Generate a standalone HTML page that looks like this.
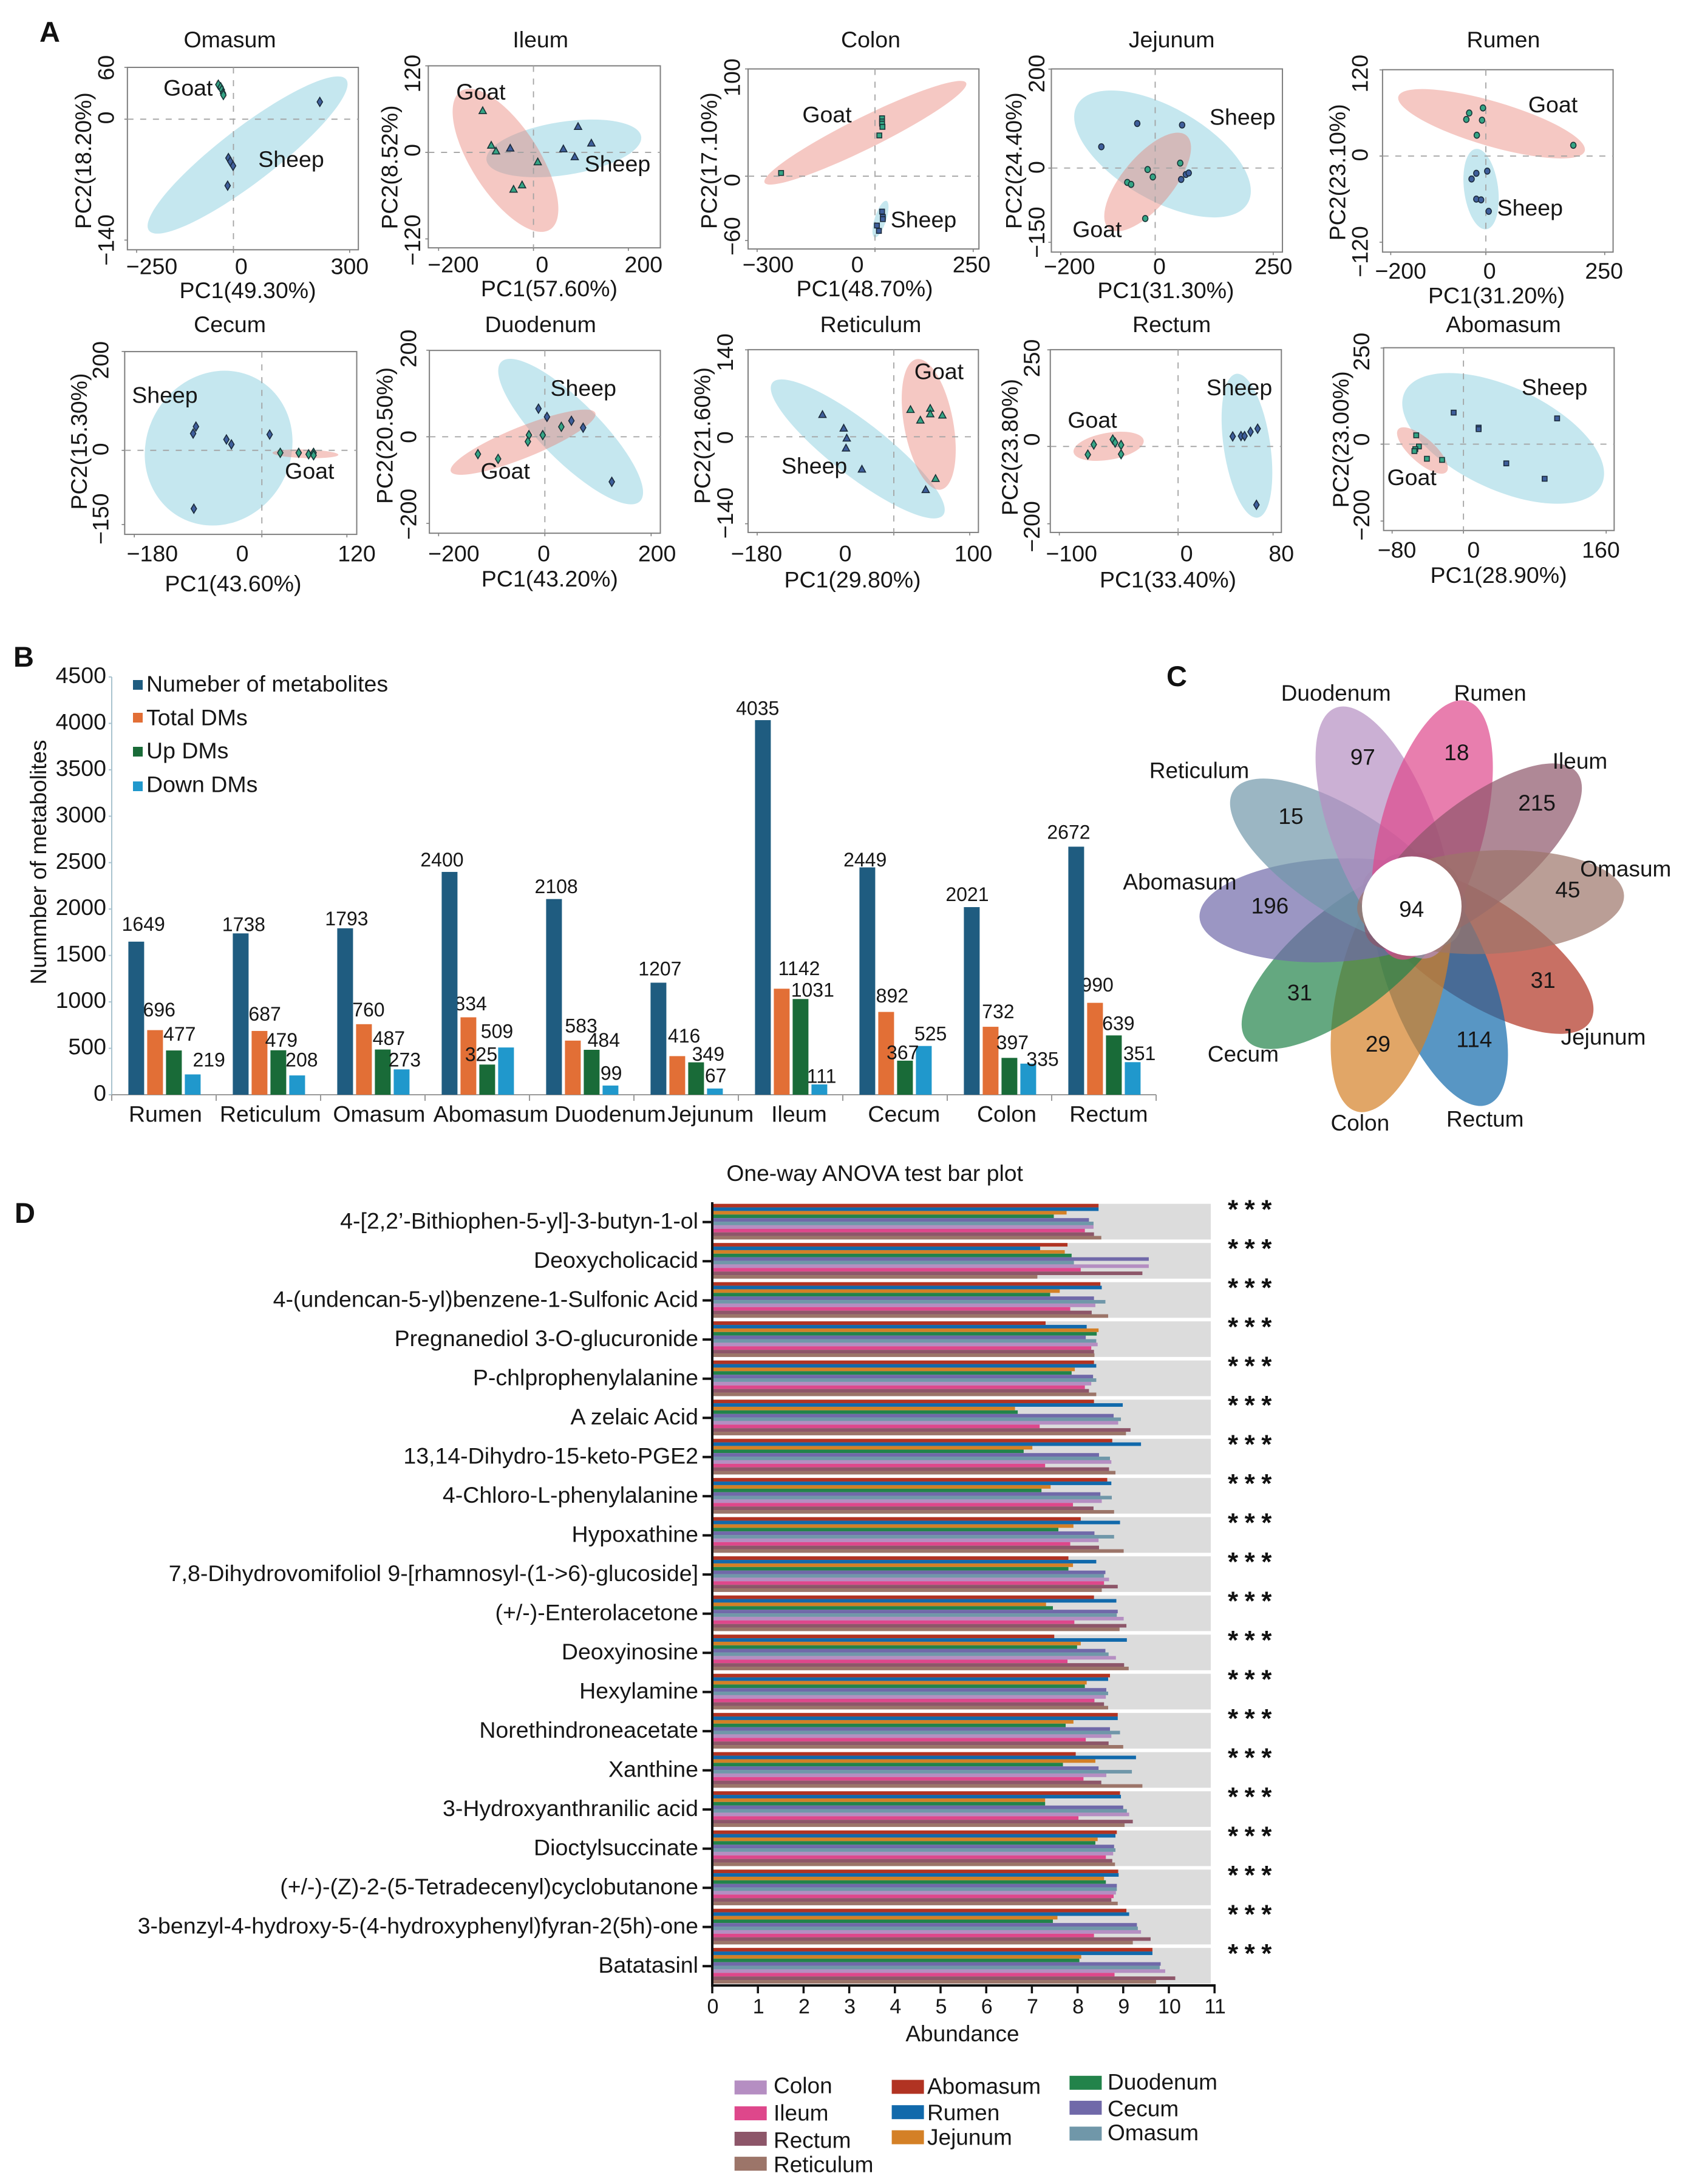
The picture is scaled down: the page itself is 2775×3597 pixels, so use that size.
<!DOCTYPE html>
<html lang="en">
<head>
<meta charset="utf-8">
<title>Metabolite comparison figure</title>
<style>
html,body{margin:0;padding:0;background:#fff;}
svg{display:block;font-family:"Liberation Sans",Arial,sans-serif;}
</style>
</head>
<body>
<svg id="figure" width="2775" height="3597" viewBox="0 0 2775 3597">
  <rect x="0" y="0" width="2775" height="3597" fill="#ffffff"/>
  <text x="65" y="69" font-size="47" font-weight="bold" fill="#111">A</text>
  <text x="22" y="1098" font-size="47" font-weight="bold" fill="#111">B</text>
  <text x="1921" y="1130" font-size="47" font-weight="bold" fill="#111">C</text>
  <text x="24" y="2014" font-size="47" font-weight="bold" fill="#111">D</text>
  <g id="panelA"></g>
  <g id="panelB"></g>
  <g id="panelC"></g>
  <g id="panelD"></g>
</svg>
<script>
/* ---------- Panel A data (PC1, PC2 values) ---------- */
const omasumGoat=[[-39,40],[-33,37],[-30,34],[-27,30],[-26,28]];
const omasumSheep=[[223,20],[-13,-45],[-8,-49],[-1,-54],[-15,-77]];
const omasumGoatEllipse=[-43,45,-19,25,0.25];
const omasumSheepEllipse=[291,46,-218,-129,0.22];
const ileumGoat=[[-107,58],[-89,10],[-79,2],[9,-13],[-24,-45],[-42,-51]];
const ileumSheep=[[-49,6],[94,36],[63,5],[122,13],[87,-6]];
const ileumGoatEllipse=[-153,85,35,-107,0.41];
const ileumSheepEllipse=[-99,-11,227,22,0.34];
const colonGoat=[[18,54],[18,51],[18,49],[19,46],[11,38],[-239,3]];
const colonSheep=[[18,-33],[20,-38],[20,-40],[5,-46],[10,-51]];
const colonGoatEllipse=[-281,-6,232,87,0.14];
const colonSheepEllipse=[29,-23,-1,-57,0.3];
const jejunumGoat=[[53,10],[-16,-3],[-5,-18],[-59,-29],[-51,-33],[-21,-102]];
const jejunumSheep=[[-38,90],[57,87],[-114,43],[55,-23],[65,-13],[71,-10]];
const jejunumGoatEllipse=[-98,-122,66,66,0.42];
const jejunumSheepEllipse=[-165,128,196,-71,0.47];
const rumenGoat=[[-6,67],[-35,60],[-41,51],[-8,50],[-19,29],[184,15]];
const rumenSheep=[[-20,-24],[-30,-32],[3,-21],[-20,-60],[-10,-61],[6,-77]];
const rumenGoatEllipse=[-184,83,208,7,0.23];
const rumenSheepEllipse=[-21,10,1,-102,0.42];
const cecumGoat=[[26,-5],[52,-5],[66,-8],[72,-7],[73,-5],[73,-10]];
const cecumSheep=[[-93,48],[-97,34],[-50,22],[-43,12],[11,32],[-96,-118]];
const cecumGoatEllipse=[15,-5,108,-9,0.13];
const cecumSheepEllipse=[-5,143,-117,-134,0.91];
const duodenumGoat=[[-126,-40],[-88,-51],[-30,4],[-32,-11],[-4,4],[31,23]];
const duodenumSheep=[[-12,65],[4,46],[50,37],[72,21],[126,-104]];
const duodenumGoatEllipse=[-177,-80,95,55,0.2];
const duodenumSheepEllipse=[-82,173,179,-149,0.3];
const reticulumGoat=[[22,44],[48,46],[35,27],[48,37],[64,35],[55,-67]];
const reticulumSheep=[[-94,36],[-66,14],[-62,-2],[-63,-18],[-42,-52],[42,-85]];
const reticulumGoatEllipse=[30,125,62,-85,0.37];
const reticulumSheepEllipse=[-160,87,65,-126,0.25];
const rectumGoat=[[-76,-21],[-71,5],[-55,18],[-53,10],[-48,4],[-48,-20]];
const rectumSheep=[[46,26],[53,27],[56,27],[61,38],[67,46],[66,-151]];
const rectumGoatEllipse=[-88,-15,-29,16,0.38];
const rectumSheepEllipse=[49,188,67,-184,0.32];
const abomasumGoat=[[-53,23],[-50,-6],[-54,-13],[-55,-18],[-41,-38],[-24,-41]];
const abomasumSheep=[[-11,82],[17,43],[17,39],[105,67],[48,-50],[91,-90]];
const abomasumGoatEllipse=[-73,39,-19,-72,0.38];
const abomasumSheepEllipse=[-66,135,155,-105,0.47];

/* ---------- Panel B data ---------- */
const bCategories=['Rumen','Reticulum','Omasum','Abomasum','Duodenum','Jejunum','Ileum','Cecum','Colon','Rectum'];
const bMetabolites=[1649,1738,1793,2400,2108,1207,4035,2449,2021,2672];
const bTotalDMs=[696,687,760,834,583,416,1142,892,732,990];
const bUpDMs=[477,479,487,325,484,349,1031,367,397,639];
const bDownDMs=[219,208,273,509,99,67,111,525,335,351];
const bYTicks=[0,500,1000,1500,2000,2500,3000,3500,4000,4500];
const bSeriesNames=['Numeber of metabolites','Total DMs','Up DMs','Down DMs'];

/* ---------- Panel C data ---------- */
const vennNames=['Rumen','Ileum','Omasum','Jejunum','Rectum','Colon','Cecum','Abomasum','Reticulum','Duodenum'];
const vennCounts=[18,215,45,31,114,29,31,196,15,97];
const vennCore=[94];

/* ---------- Panel D data ---------- */
const dMetabolites=["4-[2,2\u2019-Bithiophen-5-yl]-3-butyn-1-ol","Deoxycholicacid","4-(undencan-5-yl)benzene-1-Sulfonic Acid","Pregnanediol 3-O-glucuronide","P-chlprophenylalanine","A zelaic Acid","13,14-Dihydro-15-keto-PGE2","4-Chloro-L-phenylalanine","Hypoxathine","7,8-Dihydrovomifoliol 9-[rhamnosyl-(1->6)-glucoside]","(+/-)-Enterolacetone","Deoxyinosine","Hexylamine","Norethindroneacetate","Xanthine","3-Hydroxyanthranilic acid","Dioctylsuccinate","(+/-)-(Z)-2-(5-Tetradecenyl)cyclobutanone","3-benzyl-4-hydroxy-5-(4-hydroxyphenyl)fyran-2(5h)-one","Batatasinl"];
const dAbomasum=[8.46,7.78,8.50,7.30,8.36,8.36,8.76,8.65,8.07,7.80,8.36,7.49,8.71,8.88,7.96,8.93,8.86,8.89,9.07,9.64];
const dRumen=[8.46,7.18,8.53,8.20,8.41,8.99,9.39,8.74,8.93,8.41,8.85,9.08,8.67,8.88,9.28,8.95,8.83,8.90,9.13,9.64];
const dJejunum=[7.76,7.72,7.61,8.46,7.94,6.63,7.01,7.41,7.91,7.90,7.31,8.07,8.20,7.91,8.39,7.29,8.44,8.58,7.56,8.08];
const dDuodenum=[7.48,7.87,7.40,8.42,7.87,6.69,6.82,7.21,7.58,7.80,7.46,7.99,8.16,7.74,7.68,7.29,8.39,8.62,7.46,8.04];
const dCecum=[8.25,9.56,8.36,8.18,8.34,8.79,8.47,8.50,8.37,8.61,8.88,8.61,8.63,8.71,8.46,9.00,8.80,8.86,9.30,9.82];
const dOmasum=[8.35,7.92,8.61,8.41,8.41,8.95,8.71,8.75,8.80,8.58,8.86,8.68,8.67,8.93,9.19,9.08,8.83,8.86,9.32,9.80];
const dColon=[8.35,9.56,8.39,8.44,8.30,8.89,8.74,8.53,8.46,8.69,9.01,8.84,8.62,8.74,8.63,9.13,8.78,8.84,9.39,9.92];
const dIleum=[8.16,8.07,7.84,8.30,8.16,7.17,7.29,7.90,7.84,8.58,7.93,7.78,8.37,8.18,8.13,8.02,8.62,8.79,8.36,8.81];
const dRectum=[8.36,9.42,8.31,8.36,8.25,9.16,8.69,8.35,8.47,8.88,9.07,9.02,8.58,8.68,8.52,9.21,8.76,8.74,9.60,10.14];
const dReticulum=[8.52,7.12,8.67,8.37,8.41,9.06,8.83,8.80,9.01,8.53,8.92,9.12,8.67,9.00,9.42,9.03,8.82,8.88,9.21,9.72];
const dXTicks=[0,1,2,3,4,5,6,7,8,9,10,11];

/* ---------- helpers ---------- */
const NS='http://www.w3.org/2000/svg';
function add(parent,tag,attrs){
  const el=document.createElementNS(NS,tag);
  for(const k in attrs){el.setAttribute(k,attrs[k]);}
  parent.appendChild(el);
  return el;
}
function label(parent,str,x,y,size,anchor,rotated){
  const el=add(parent,'text',{x:x,y:y,'font-size':size,'text-anchor':anchor||'middle',fill:'#161616'});
  if(rotated){el.setAttribute('transform','rotate(-90 '+x+' '+y+')');}
  el.textContent=str;
  return el;
}
const zx1=v=>v/1.12;
const zx2=v=>1400+v/1.1404;
const zy=v=>v/1.568;
const fmtTick=v=>(v<0?'\u2212'+Math.abs(v):String(v));

/* ---------- Panel A layout ---------- */
const pcaLayout=[
 {name:'Omasum',goat:omasumGoat,sheep:omasumSheep,goatE:omasumGoatEllipse,sheepE:omasumSheepEllipse,shape:'diamond',box:[zx1(235),zy(174),zx1(661),zy(645)],x0:zx1(430.6),kx:.7145/1.12,y0:zy(307.8),ky:2.23/1.568,xTicks:[-250,0,300],xLabelX:[zx1(280),zx1(445),zx1(645)],xLabelY:zy(708),yTicks:[60,0,-140],yLabelY:[zy(175),zy(304),zy(620)],yLabelX:zx1(210),pcx:'PC1(49.30%)',pcxAt:[zx1(457),zy(770)],pcy:'PC2(18.20%)',pcyAt:[zx1(168),zy(415)],titleAt:[zx1(424),zy(122)],goatAt:[zx1(347),zy(247)],sheepAt:[zx1(537),zy(431)]},
 {name:'Ileum',goat:ileumGoat,sheep:ileumSheep,goatE:ileumGoatEllipse,sheepE:ileumSheepEllipse,shape:'triangle',box:[zx1(790),zy(170),zx1(1218),zy(640)],x0:zx1(984),kx:.875/1.12,y0:zy(393.5),ky:1.862/1.568,xTicks:[-200,0,200],xLabelX:[zx1(836),zx1(1000),zx1(1187)],xLabelY:zy(703),yTicks:[120,0,-120],yLabelY:[zy(190),zy(388),zy(620)],yLabelX:zx1(775),pcx:'PC1(57.60%)',pcxAt:[zx1(1013),zy(765)],pcy:'PC2(8.52%)',pcyAt:[zx1(733),zy(432)],titleAt:[zx1(997),zy(122)],goatAt:[zx1(887),zy(257)],sheepAt:[zx1(1139),zy(443)]},
 {name:'Colon',goat:colonGoat,sheep:colonSheep,goatE:colonGoatEllipse,sheepE:colonSheepEllipse,shape:'square',box:[1232,zy(178),zx2(242),zy(643)],x0:1441,kx:.647,y0:zy(455),ky:2.77/1.568,xTicks:[-300,0,250],xLabelX:[1265,1412,1600],xLabelY:zy(703),yTicks:[100,0,-60],yLabelY:[zy(200),zy(465),zy(610)],yLabelX:zx1(1365),pcx:'PC1(48.70%)',pcxAt:[1424,zy(765)],pcy:'PC2(17.10%)',pcyAt:[zx1(1322),zy(415)],titleAt:[1434,zy(122)],goatAt:[1362,zy(316)],sheepAt:[zx2(138),zy(587)]},
 {name:'Jejunum',goat:jejunumGoat,sheep:jejunumSheep,goatE:jejunumGoatEllipse,sheepE:jejunumSheepEllipse,shape:'circle',box:[zx2(378),zy(178),zx2(812),zy(651)],x0:zx2(573),kx:.887/1.1404,y0:zy(434),ky:1.278/1.568,xTicks:[-200,0,250],xLabelX:[zx2(412),zx2(581),zx2(795)],xLabelY:zy(708),yTicks:[200,0,-150],yLabelY:[zy(190),zy(432),zy(600)],yLabelX:zx2(365),pcx:'PC1(31.30%)',pcxAt:[zx2(593),zy(770)],pcy:'PC2(24.40%)',pcyAt:[zx2(322),zy(415)],titleAt:[zx2(604),zy(122)],goatAt:[zx2(464),zy(612)],sheepAt:[zx2(737),zy(322)]},
 {name:'Rumen',goat:rumenGoat,sheep:rumenSheep,goatE:rumenGoatEllipse,sheepE:rumenSheepEllipse,shape:'circle',box:[zx2(1000),zy(180),zx2(1433),zy(651)],x0:zx2(1194),kx:.893/1.1404,y0:zy(403),ky:1.854/1.568,xTicks:[-200,0,250],xLabelX:[zx2(1034),zx2(1201),zx2(1416)],xLabelY:zy(720),yTicks:[120,0,-120],yLabelY:[zy(190),zy(400),zy(650)],yLabelX:zx2(972),pcx:'PC1(31.20%)',pcxAt:[zx2(1214),zy(783)],pcy:'PC2(23.10%)',pcyAt:[zx2(930),zy(445)],titleAt:[zx2(1227),zy(122)],goatAt:[zx2(1320),zy(290)],sheepAt:[zx2(1277),zy(557)]},
 {name:'Cecum',goat:cecumGoat,sheep:cecumSheep,goatE:cecumGoatEllipse,sheepE:cecumSheepEllipse,shape:'diamond',box:[zx1(230),zy(908),zx1(658),zy(1380)],x0:zx1(483),kx:1.307/1.12,y0:zy(1163),ky:1.277/1.568,xTicks:[-180,0,120],xLabelX:[zx1(281),zx1(447),zx1(658)],xLabelY:zy(1450),yTicks:[200,0,-150],yLabelY:[zy(930),zy(1160),zy(1340)],yLabelX:zx1(200),pcx:'PC1(43.60%)',pcxAt:[zx1(430),zy(1527)],pcy:'PC2(15.30%)',pcyAt:[zx1(160),zy(1140)],titleAt:[zx1(424),zy(858)],goatAt:[zx1(571),zy(1236)],sheepAt:[zx1(304),zy(1040)]},
 {name:'Duodenum',goat:duodenumGoat,sheep:duodenumSheep,goatE:duodenumGoatEllipse,sheepE:duodenumSheepEllipse,shape:'diamond',box:[zx1(792),zy(905),zx1(1218),zy(1377)],x0:zx1(1005),kx:.98/1.12,y0:zy(1128),ky:1.118/1.568,xTicks:[-200,0,200],xLabelX:[zx1(837),zx1(1003),zx1(1212)],xLabelY:zy(1450),yTicks:[200,0,-200],yLabelY:[zy(900),zy(1128),zy(1328)],yLabelX:zx1(768),pcx:'PC1(43.20%)',pcxAt:[zx1(1014),zy(1515)],pcy:'PC2(20.50%)',pcyAt:[zx1(724),zy(1125)],titleAt:[zx1(997),zy(858)],goatAt:[zx1(932),zy(1236)],sheepAt:[zx1(1076),zy(1022)]},
 {name:'Reticulum',goat:reticulumGoat,sheep:reticulumSheep,goatE:reticulumGoatEllipse,sheepE:reticulumSheepEllipse,shape:'triangle',box:[1232,zy(903),zx2(241),zy(1375)],x0:1472,kx:1.25,y0:zy(1128),ky:1.604/1.568,xTicks:[-180,0,100],xLabelX:[1246,1392,1603],xLabelY:zy(1450),yTicks:[140,0,-140],yLabelY:[zy(910),zy(1130),zy(1325)],yLabelX:zx1(1352),pcx:'PC1(29.80%)',pcxAt:[1404,zy(1517)],pcy:'PC2(21.60%)',pcyAt:[zx1(1310),zy(1125)],titleAt:[1434,zy(858)],goatAt:[zx2(167),zy(979)],sheepAt:[zx1(1502),zy(1223)]},
 {name:'Rectum',goat:rectumGoat,sheep:rectumSheep,goatE:rectumGoatEllipse,sheepE:rectumSheepEllipse,shape:'diamond',box:[zx2(376),zy(903),zx2(810),zy(1375)],x0:zx2(616),kx:2.23/1.1404,y0:zy(1153),ky:.998/1.568,xTicks:[-100,0,80],xLabelX:[zx2(416),zx2(632),zx2(810)],xLabelY:zy(1450),yTicks:[250,0,-200],yLabelY:[zy(925),zy(1135),zy(1360)],yLabelX:zx2(356),pcx:'PC1(33.40%)',pcxAt:[zx2(597),zy(1517)],pcy:'PC2(23.80%)',pcyAt:[zx2(315),zy(1155)],titleAt:[zx2(604),zy(858)],goatAt:[zx2(455),zy(1105)],sheepAt:[zx2(731),zy(1021)]},
 {name:'Abomasum',goat:abomasumGoat,sheep:abomasumSheep,goatE:abomasumGoatEllipse,sheepE:abomasumSheepEllipse,shape:'square',box:[zx2(1002),zy(898),zx2(1435),zy(1370)],x0:zx2(1152),kx:1.675/1.1404,y0:zy(1147),ky:.993/1.568,xTicks:[-80,0,160],xLabelX:[zx2(1027),zx2(1171),zx2(1410)],xLabelY:zy(1440),yTicks:[250,0,-200],yLabelY:[zy(908),zy(1135),zy(1330)],yLabelX:zx2(975),pcx:'PC1(28.90%)',pcxAt:[zx2(1218),zy(1505)],pcy:'PC2(23.00%)',pcyAt:[zx2(936),zy(1135)],titleAt:[zx2(1227),zy(858)],goatAt:[zx2(1055),zy(1253)],sheepAt:[zx2(1323),zy(1020)]}
];

function ellipseMark(parent,e,X,Y,fill){
  const x1=X(e[0]),y1=Y(e[1]),x2=X(e[2]),y2=Y(e[3]);
  const cx=(x1+x2)/2,cy=(y1+y2)/2,a=Math.hypot(x2-x1,y2-y1)/2;
  const ang=Math.atan2(y2-y1,x2-x1)*180/Math.PI;
  return add(parent,'ellipse',{cx:cx,cy:cy,rx:a,ry:a*e[4],fill:fill,transform:'rotate('+ang+' '+cx+' '+cy+')'});
}
function marker(parent,shape,px,py,fill,stroke){
  const common={fill:fill,stroke:stroke,'stroke-width':1.6};
  let el;
  if(shape==='diamond'){
    el=add(parent,'polygon',Object.assign({points:(px)+','+(py-7.5)+' '+(px+4.5)+','+py+' '+(px)+','+(py+7.5)+' '+(px-4.5)+','+py},common));
  }else if(shape==='triangle'){
    el=add(parent,'polygon',Object.assign({points:px+','+(py-6)+' '+(px+6)+','+(py+5)+' '+(px-6)+','+(py+5)},common));
  }else if(shape==='square'){
    el=add(parent,'rect',Object.assign({x:px-4,y:py-4,width:8,height:8},common));
  }else{
    el=add(parent,'ellipse',Object.assign({cx:px,cy:py,rx:4.5,ry:5},common));
  }
  return el;
}

const panelA=document.getElementById('panelA');
pcaLayout.forEach(p=>{
  const g=add(panelA,'g',{});
  
  
  const X=v=>p.x0+p.kx*v;
  const Y=v=>p.y0-p.ky*v;
  const b=p.box;

  const sheepE=ellipseMark(g,p.sheepE,X,Y,'rgba(150,211,226,.55)');
  
  
  const goatE=ellipseMark(g,p.goatE,X,Y,'rgba(231,124,112,.42)');
  
  

  const frame=add(g,'rect',{x:b[0],y:b[1],width:b[2]-b[0],height:b[3]-b[1],fill:'none',stroke:'#7f7f7f','stroke-width':2});
  
  

  const vz=add(g,'line',{x1:X(0),x2:X(0),y1:b[1],y2:b[3],stroke:'#a3a3a3','stroke-width':1.8,'stroke-dasharray':'10 11'});
  
  
  const hz=add(g,'line',{x1:b[0],x2:b[2],y1:Y(0),y2:Y(0),stroke:'#a3a3a3','stroke-width':1.8,'stroke-dasharray':'10 11'});
  
  

  p.xTicks.forEach((v,i)=>{
    const t=add(g,'line',{x1:X(v),x2:X(v),y1:b[3],y2:b[3]+5,stroke:'#7f7f7f','stroke-width':1.6});
    
    
    const tl=label(g,fmtTick(v),p.xLabelX[i],p.xLabelY,37.5);
    
    
  });
  p.yTicks.forEach((v,i)=>{
    const t=add(g,'line',{x1:b[0]-5,x2:b[0],y1:Y(v),y2:Y(v),stroke:'#7f7f7f','stroke-width':1.6});
    
    
    const tl=label(g,fmtTick(v),p.yLabelX,p.yLabelY[i],37.5,'middle',true);
    
    
  });

  p.sheep.forEach(pt=>{
    const m=marker(g,p.shape,X(pt[0]),Y(pt[1]),'#3f5f9c','#1b2a3c');
    
    
  });
  p.goat.forEach(pt=>{
    const m=marker(g,p.shape,X(pt[0]),Y(pt[1]),'#35a585','#173436');
    
    
  });

  const title=label(g,p.name,p.titleAt[0],p.titleAt[1],37.5);
  
  
  const xt=label(g,p.pcx,p.pcxAt[0],p.pcxAt[1],37.5);
  
  
  const yt=label(g,p.pcy,p.pcyAt[0],p.pcyAt[1],37.5,'middle',true);
  
  
  const gl=label(g,'Goat',p.goatAt[0],p.goatAt[1],37.5);
  
  
  const sl=label(g,'Sheep',p.sheepAt[0],p.sheepAt[1],37.5);
  
  
});

/* ---------- Panel B ---------- */
(function(){
  const root=document.getElementById('panelB');
  const sx=.804,sy=1.845;
  const bX=z=>z/sx;
  const Y=v=>1803-v*0.1529;
  const left=184,right=1904,pitch=172;
  const colors=['#1f5c80','#e26f36','#196b38','#2098cc'];
  const series=[bMetabolites,bTotalDMs,bUpDMs,bDownDMs];
  /* layout: label offsets from each bar's top-centre, in zoomed units */
  const labelDx=[[9.5,5.5,7.5,21.5],[4,7,4,6],[2,6,8,4],[-10,3,-8,-12],[3,11,16,1],[2,9,16,1],[-7,23,16,3],[-3,8,-3,9],[-6,10,4,19],[-10,3,6,9]];
  const labelDy=[[33,42,30,24],[7,31,11,27],[9,24,14,9],[17,21,11,29],[18,25,9,17],[22,41,5,19],[16,41,7,5],[3,29,4,17],[18,26,26,-7],[24,34,16,6]];
  const catLabelZ=[219,358,502,650,808,941,1058,1197,1333,1468];

  const yAxis=add(root,'line',{x1:left,x2:left,y1:Y(4500),y2:Y(0),stroke:'#a9c3cf','stroke-width':2});
  
  
  const xAxis=add(root,'line',{x1:left,x2:right,y1:Y(0),y2:Y(0),stroke:'#9a9a9a','stroke-width':2});
  
  

  bYTicks.forEach(v=>{
    const t=add(root,'line',{x1:left-5,x2:left,y1:Y(v),y2:Y(v),stroke:'#a9c3cf','stroke-width':2});
    
    
    const l=label(root,String(v),175,Y(v)+10,37.5,'end');
    
    
  });
  for(let i=0;i<=bCategories.length;i++){
    const x=left+pitch*i;
    const t=add(root,'line',{x1:x,x2:x,y1:Y(0),y2:Y(0)+10,stroke:'#9a9a9a','stroke-width':2});
    
    
  }
  bCategories.forEach((c,i)=>{
    const l=label(root,c,bX(catLabelZ[i]),1847.5,37.5);
    
    
  });

  function valueLabels(s){
    series[s].forEach((v,i)=>{
      const cx=left+pitch*i+27.4+13+31*s;
      const l=label(root,String(v),cx+labelDx[i][s]/sx,Y(v)-labelDy[i][s]/sy,32);
      
      
    });
  }
  /* Total-DM labels sit behind the bars (e.g. 834, 990 are clipped); the others sit on top */
  valueLabels(1);
  series.forEach((vals,s)=>{
    vals.forEach((v,i)=>{
      const x=left+pitch*i+27.4+31*s;
      const r=add(root,'rect',{x:x,y:Y(v),width:26,height:Y(0)-Y(v),fill:colors[s]});
      
      
    });
  });
  valueLabels(0);
  valueLabels(2);
  valueLabels(3);

  const yTitle=label(root,'Nummber of metabolites',76,1420,37,'middle',true);
  
  

  const legendY=[1128,1182,1238,1295];
  const legendBase=[1139,1194.5,1249,1304.5];
  bSeriesNames.forEach((n,i)=>{
    const sw=add(root,'rect',{x:219,y:legendY[i]-8,width:16,height:16,fill:colors[i]});
    
    
    const l=label(root,n,241,legendBase[i],37.5,'start');
    
    
  });
})();

/* ---------- Panel C ---------- */
(function(){
  const root=document.getElementById('panelC');
  const cx=2325,cy=1492.5;
  const petalColors=['#de478b','#8d5669','#9c7569','#b13322','#1169ab','#d48026','#22834a','#7069a9','#7097a9','#b58ec2'];
  const drawOrder=[3,4,5,6,7,8,9,0,1,2];
  const startAngle=15,step=36,centerOffset=130,semiMajor=220,semiMinor=85;
  drawOrder.forEach(i=>{
    const ang=startAngle+step*i;
    const e=add(root,'ellipse',{cx:cx,cy:cy-centerOffset,rx:semiMinor,ry:semiMajor,fill:petalColors[i],'fill-opacity':.7,transform:'rotate('+ang+' '+cx+' '+cy+')'});
    
    
  });
  const core=add(root,'circle',{cx:cx,cy:cy,r:82,fill:'#ffffff'});
  
  

  const zx=v=>1900+v/1.792;
  const zyc=v=>1080+v/1.96;
  const nameAt=[[993,145],[1258,365],[1393,712],[1327,1255],[978,1520],[609,1533],[264,1310],[null,755],[null,395],[538,145]];
  const nameAbs={7:1943,8:1975};
  const countAt=[[894,337],[1131,500],[1222,780],[1149,1072],[946,1263],[662,1278],[431,1112],[343,832],[405,543],[617,352]];
  vennNames.forEach((n,i)=>{
    const x=nameAt[i][0]===null?nameAbs[i]:zx(nameAt[i][0]);
    const l=label(root,n,x,zyc(nameAt[i][1]),37);
    
    
    const c=label(root,String(vennCounts[i]),zx(countAt[i][0]),zyc(countAt[i][1]),37);
    
    
  });
  const cc=label(root,String(vennCore[0]),zx(761),zyc(843),37);
  
  
})();

/* ---------- Panel D ---------- */
(function(){
  const root=document.getElementById('panelD');
  const X=v=>1173+75.2*v;
  const rowTop=i=>1982.7+64.5*i;
  const barH=5.87;
  const series=[
    {name:'Abomasum',vals:dAbomasum,color:'#b13322'},
    {name:'Rumen',vals:dRumen,color:'#1169ab'},
    {name:'Jejunum',vals:dJejunum,color:'#d48026'},
    {name:'Duodenum',vals:dDuodenum,color:'#22834a'},
    {name:'Cecum',vals:dCecum,color:'#7069a9'},
    {name:'Omasum',vals:dOmasum,color:'#7097a9'},
    {name:'Colon',vals:dColon,color:'#b58ec2'},
    {name:'Ileum',vals:dIleum,color:'#de478b'},
    {name:'Rectum',vals:dRectum,color:'#8d5669'},
    {name:'Reticulum',vals:dReticulum,color:'#9c7569'}
  ];
  const title=label(root,'One-way ANOVA test bar plot',1440.6,1945,37.3);
  
  

  dMetabolites.forEach((m,i)=>{
    const bg=add(root,'rect',{x:1175,y:rowTop(i),width:819,height:58.7,fill:'#dcdcdc'});
    
    
    const tick=add(root,'line',{x1:1157,x2:1173,y1:rowTop(i)+30,y2:rowTop(i)+30,stroke:'#111','stroke-width':4});
    
    
    const l=label(root,m,1150,rowTop(i)+41,37.5,'end');
    
    
    const star=add(root,'text',{x:2022,y:rowTop(i)+24,'font-size':44,'font-weight':'bold','letter-spacing':'10.5',fill:'#111'});
    star.textContent='***';
    
    
  });
  series.forEach((s,k)=>{
    s.vals.forEach((v,i)=>{
      const r=add(root,'rect',{x:1175,y:rowTop(i)+k*barH,width:X(v)-1175,height:barH,fill:s.color});
      
      
    });
  });
  const yAxis=add(root,'line',{x1:1173,x2:1173,y1:1980,y2:3272,stroke:'#111','stroke-width':4});
  
  
  const xAxis=add(root,'line',{x1:1171,x2:2002,y1:3270,y2:3270,stroke:'#111','stroke-width':4});
  
  
  dXTicks.forEach(v=>{
    const t=add(root,'line',{x1:X(v),x2:X(v),y1:3270,y2:3283,stroke:'#111','stroke-width':3.5});
    
    
    const l=label(root,String(v),X(v)+1,3316,34);
    
    
  });
  const xTitle=label(root,'Abundance',1585,3362,37);
  
  

  const colorOf={};
  series.forEach(s=>{colorOf[s.name]=s.color;});
  const legendItems=[
    ['Colon',1209.7,3438,1274,3447.5],['Ileum',1209.7,3480.6,1274,3492.4],['Rectum',1209.7,3522.5,1274,3537.7],['Reticulum',1209.7,3563.6,1274,3577.7],
    ['Abomasum',1468.6,3437,1527,3448.6],['Rumen',1468.6,3478.7,1527,3492],['Jejunum',1468.6,3520,1527,3532.4],
    ['Duodenum',1761.4,3430.3,1824,3441.7],['Cecum',1761.4,3471.4,1824,3485.5],['Omasum',1761.4,3514,1824,3524.8]
  ];
  legendItems.forEach(it=>{
    const sw=add(root,'rect',{x:it[1],y:it[2]-11.5,width:53,height:23,fill:colorOf[it[0]]});
    
    
    const l=label(root,it[0],it[3],it[4],37,'start');
    
    
  });
})();
</script>
</body>
</html>
